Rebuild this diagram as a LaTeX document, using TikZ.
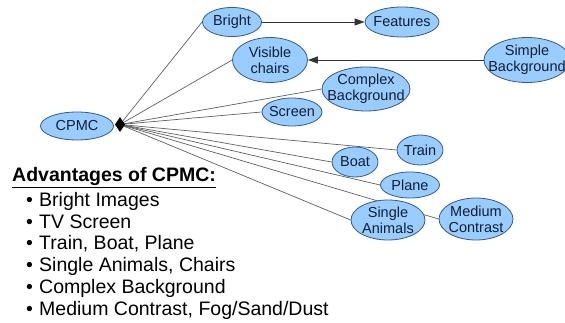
\documentclass[tikz,border=0pt]{standalone}
\usepackage{fontspec}
\setmainfont{Liberation Sans}
\usetikzlibrary{shapes.geometric,arrows.meta,backgrounds}
\definecolor{bubfill}{RGB}{153,204,255}
\definecolor{bubdraw}{RGB}{52,88,140}
\definecolor{bubtext}{RGB}{20,30,50}
\definecolor{edgecol}{RGB}{95,95,95}
\begin{document}
\begin{tikzpicture}[x=1pt,y=-1pt,
  bub/.style={ellipse,draw=bubdraw,line width=0.8pt,fill=bubfill,inner sep=0pt},
  lbl/.style={font=\fontsize{14.5}{16}\selectfont,text=bubtext,align=center,inner sep=0pt},
  edge/.style={draw=edgecol,line width=0.7pt},
  arr/.style={draw=black!80,line width=0.8pt,-{Triangle[length=10pt,width=7pt]}},
  itemtxt/.style={anchor=base west,inner sep=0pt,font=\fontsize{19.5}{22}\selectfont}]
\useasboundingbox (0,0) rectangle (565,323);

\node[bub,minimum width=73pt,minimum height=28pt,label={[lbl]center:CPMC}] (cpmc) at (77,126) {};
\node[diamond,fill=black,inner sep=0pt,minimum width=10pt,minimum height=15pt] (hub) at (120,124.5) {};

\node[bub,minimum width=59pt,minimum height=29pt,label={[lbl]center:Bright}] (bright) at (232,22) {};
\node[bub,minimum width=74pt,minimum height=30pt,label={[lbl]center:Features}] (features) at (402,22) {};
\node[bub,minimum width=75pt,minimum height=45pt,label={[lbl]center:{Visible\\chairs}}] (visible) at (270,60) {};
\node[bub,minimum width=86pt,minimum height=45pt,label={[lbl]center:{Simple\\Background}}] (simple) at (527,60) {};
\node[bub,minimum width=88pt,minimum height=44pt,label={[lbl]center:{Complex\\Background}}] (complex) at (366,89) {};
\node[bub,minimum width=60pt,minimum height=28pt,label={[lbl]center:Screen}] (screen) at (292,112) {};
\node[bub,minimum width=46pt,minimum height=30pt,label={[lbl]center:Train}] (train) at (420,150) {};
\node[bub,minimum width=46pt,minimum height=30pt,label={[lbl]center:Boat}] (boat) at (355,162) {};
\node[bub,minimum width=59pt,minimum height=26pt,label={[lbl]center:Plane}] (plane) at (410,185) {};
\node[bub,minimum width=74pt,minimum height=40pt,label={[lbl]center:{Single\\Animals}}] (animals) at (388,220) {};
\node[bub,minimum width=74pt,minimum height=42pt,label={[lbl]center:{Medium\\Contrast}}] (medium) at (476,219) {};

\begin{scope}[on background layer]
  \foreach \t in {bright,visible,complex,screen,train,boat,plane,animals,medium}
    \draw[edge] (hub.center) -- (\t.west);
\end{scope}

\draw[arr] (bright) -- (features);
\draw[arr] (simple) -- (visible);

\node[anchor=base west,inner sep=0pt,font=\fontsize{19.5}{22}\selectfont\bfseries] (head) at (12,182) {\underline{Advantages of CPMC:}};
\node[itemtxt] (i1) at (26,207) {\textbullet\hspace{6.2pt}Bright Images};
\node[itemtxt] (i2) at (26,228.5) {\textbullet\hspace{6.2pt}TV Screen};
\node[itemtxt] (i3) at (26,250) {\textbullet\hspace{6.2pt}Train, Boat, Plane};
\node[itemtxt] (i4) at (26,271.7) {\textbullet\hspace{6.2pt}Single Animals, Chairs};
\node[itemtxt] (i5) at (26,293.3) {\textbullet\hspace{6.2pt}Complex Background};
\node[itemtxt] (i6) at (26,315) {\textbullet\hspace{6.2pt}Medium Contrast, Fog/Sand/Dust};
\end{tikzpicture}
\end{document}
